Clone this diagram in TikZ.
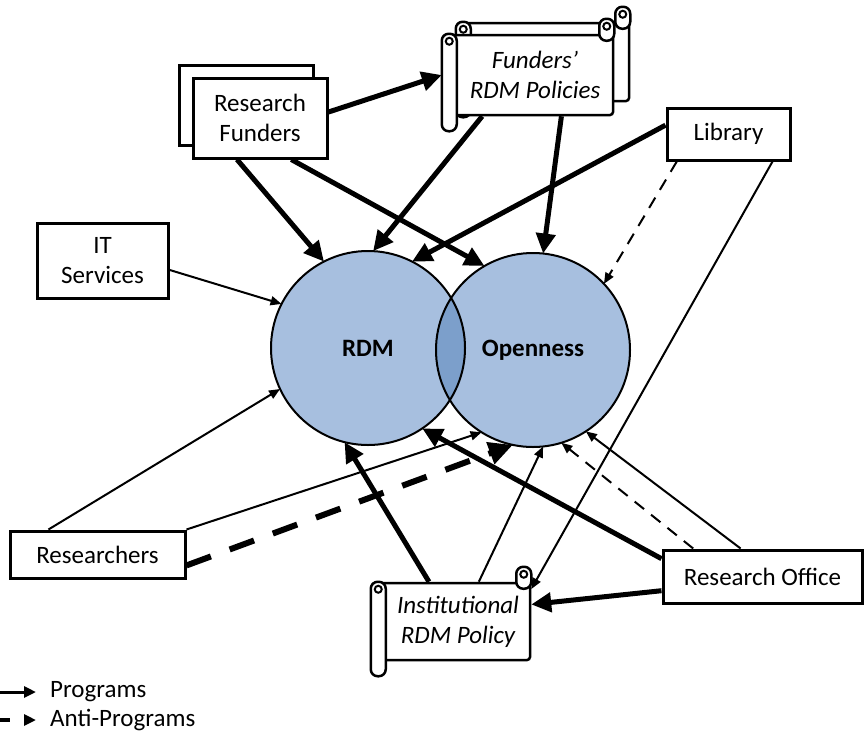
\documentclass[tikz,border=0pt]{standalone}
\usepackage{fontspec}
\setmainfont{Carlito}
\usetikzlibrary{positioning, arrows.meta, calc}
\newcommand{\labelFont}{\fontsize{25}{30}\selectfont}
\tikzstyle{plainbox} =[draw, line width=3pt, fill=white, align=center, inner sep=0pt]
\tikzstyle{scrollbox} =[draw, line width=2.5pt, fill=white, rounded corners=3pt, align=center, inner sep=0pt, font=\labelFont\itshape]
\tikzstyle{bubble} =[circle, fill=circleBlue, minimum size=194pt, inner sep=0pt, outer sep=0pt, font=\labelFont\bfseries]
\tikzstyle{program} =[-{Triangle[length=20pt, width=19pt]}, line width=5pt]
\tikzstyle{weakprogram} =[-{Triangle[length=11pt, width=9pt]}, line width=2pt]
\tikzstyle{antiprogram} =[-{Triangle[length=24pt, width=22pt]}, line width=6pt, dash pattern=on 26pt off 20pt]
\tikzstyle{weakantiprogram} =[-{Triangle[length=11pt, width=9pt]}, line width=2pt, dash pattern=on 12pt off 9pt]
\definecolor{circleBlue}{HTML}{A7BFDF}
\definecolor{overlapBlue}{HTML}{7C9FCB}

% rolls of a scroll drawn round a named node
\newcommand{\scrollRolls}[1]{%
\draw[line width=2.5pt, fill=white, rounded corners=7pt] (#1.north west) rectangle ($(#1.south west)+(15,15)$);
\draw[line width=2pt] ($(#1.north west)+(7.5,7.5)$) circle[radius=3.5pt];
\draw[line width=2.5pt, fill=white, rounded corners=7pt] ($(#1.north east)+(-15,-15)$) rectangle ($(#1.north east)+(0,7)$);
\draw[line width=2pt] ($(#1.north east)+(-7.5,-7.5)$) circle[radius=3.5pt];
}

\begin{document}
\begin{tikzpicture}[x=1pt, y=-1pt, font=\labelFont]
\useasboundingbox (0,0) rectangle (866,753);

\node (rdm) [bubble] at (368,348) {RDM};
\node (openness) [bubble] at (533,350) {Openness};
\begin{scope}
\clip (rdm.center) circle[radius=97pt];
\fill[overlapBlue] (openness.center) circle[radius=97pt];
\end{scope}
\draw[line width=2pt] (rdm.center) circle[radius=97pt];
\draw[line width=2pt] (openness.center) circle[radius=97pt];

\node (resFundersBack) [plainbox, minimum width=134pt, minimum height=80pt] at (246,105) {};
\node (resFunders) [plainbox, minimum width=134pt, minimum height=80pt] at (260,118) {Research\\Funders};
\node (library) [plainbox, minimum width=123pt, minimum height=52pt] at (728.5,134) {Library};
\node (itServices) [plainbox, minimum width=131pt, minimum height=75pt] at (102.5,260.5) {IT\\Services};
\node (researchers) [plainbox, minimum width=175pt, minimum height=47pt] at (97.5,554.5) {Researchers};
\node (resOffice) [plainbox, minimum width=199pt, minimum height=53pt] at (762.5,576.5) {Research Office};

\node (fundPoliciesBack) [scrollbox, minimum width=172pt, minimum height=78pt] at (543,62) {};
\scrollRolls{fundPoliciesBack}
\node (fundPolicies) [scrollbox, minimum width=170pt, minimum height=80pt] at (528,75) {\hspace*{14pt}Funders’\\\hspace*{14pt}RDM Policies};
\scrollRolls{fundPolicies}
\node (instPolicy) [scrollbox, minimum width=158pt, minimum height=77pt] at (451,621.5) {\hspace*{14pt}Institutional\\\hspace*{14pt}RDM Policy};
\scrollRolls{instPolicy}

\draw[program] (resFunders.241) -- (rdm.117);
\draw[program] (resFunders.-53) -- (openness.120);
\draw[program] (resFunders.5) -- (fundPolicies.west);
\draw[program] (fundPolicies.-138) -- (rdm.87);
\draw[program] (fundPolicies.-51) -- (openness.84);
\draw[program] (library.172) -- (rdm.63);
\draw[weakantiprogram] (library.-152) -- (openness.43);
\draw[weakprogram] (library.-32) -- (instPolicy.22);
\draw[weakprogram] (itServices.-8) -- (rdm.153);
\draw[weakprogram] (researchers.153) -- (rdm.205);
\draw[weakprogram] (researchers.north east) -- (openness.238);
\draw[antiprogram] (researchers.-7) -- (openness.258);
\draw[program] (instPolicy.119) -- (rdm.256);
\draw[weakprogram] (instPolicy.55) -- (openness.276);
\draw[program] (resOffice.170) -- (rdm.304);
\draw[weakantiprogram] (resOffice.158) -- (openness.287);
\draw[weakprogram] (resOffice.128) -- (openness.303);
\draw[program] (resOffice.188) -- (instPolicy.12);

%legend
\coordinate (progStart) at (0,692);
\node (progLabel) [anchor=west, inner sep=0pt] at (50,692) {Programs};
\draw[-{Triangle[length=12pt, width=11pt]}, line width=3pt, shorten >=14pt] (progStart) -- (progLabel.west);
\coordinate (antiStart) at (0,720);
\node (antiLabel) [anchor=west, inner sep=0pt] at (50,720) {Anti-Programs};
\draw[-{Triangle[length=12pt, width=11pt]}, line width=3.5pt, dash pattern=on 10pt off 14pt, shorten >=14pt] (antiStart) -- (antiLabel.west);

\end{tikzpicture}
\end{document}
